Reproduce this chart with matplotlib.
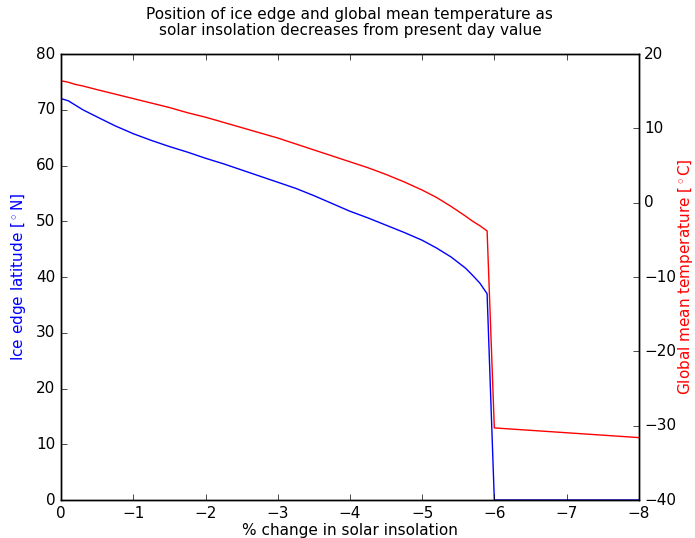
import matplotlib
matplotlib.use('Agg')
import matplotlib.pyplot as plt

plt.style.use('classic')
plt.rcParams['font.size'] = 11

# % change in solar insolation
insol = [0.0, -0.1, -0.2, -0.3, -0.5, -0.75, -1.0, -1.25, -1.5, -1.75, -2.0,
         -2.25, -2.5, -2.75, -3.0, -3.25, -3.5, -3.75, -4.0, -4.25, -4.5,
         -4.75, -5.0, -5.2, -5.4, -5.6, -5.7, -5.8, -5.9, -6.0, -8.0]

# ice edge latitude (deg N)
ice_lat = [72.0, 71.6, 70.8, 70.0, 68.7, 67.1, 65.7, 64.5, 63.4, 62.4, 61.3,
           60.3, 59.2, 58.1, 57.0, 55.9, 54.6, 53.2, 51.8, 50.6, 49.3,
           48.0, 46.6, 45.2, 43.6, 41.6, 40.3, 38.9, 37.0, 0.0, 0.0]

# global mean temperature (deg C)
temp = [16.4, 16.2, 15.9, 15.7, 15.2, 14.6, 14.0, 13.4, 12.8, 12.1, 11.5,
        10.8, 10.1, 9.4, 8.7, 7.9, 7.1, 6.3, 5.5, 4.7, 3.8,
        2.8, 1.7, 0.7, -0.5, -1.8, -2.5, -3.1, -3.8, -30.3, -31.6]

fig = plt.figure(figsize=(6.95, 5.38), dpi=100, facecolor='white')
ax1 = fig.add_axes([0.088, 0.0706, 0.831, 0.829])
ax1.plot(insol, ice_lat, color='blue', linewidth=1.0)
ax1.set_xlim(0, -8)
ax1.set_ylim(0, 80)
ax1.set_xlabel('% change in solar insolation', labelpad=2)
ax1.set_ylabel(r'Ice edge latitude [$^\circ$N]', color='blue', labelpad=6)
ax1.yaxis.set_ticks_position('left')

ax2 = ax1.twinx()
ax2.plot(insol, temp, color='red', linewidth=1.0)
ax2.set_xlim(0, -8)
ax2.set_ylim(-40, 20)
ax2.set_ylabel(r'Global mean temperature [$^\circ$C]', color='red', labelpad=0)
ax2.yaxis.set_ticks_position('right')

ax1.set_title('Position of ice edge and global mean temperature as\n'
              'solar insolation decreases from present day value',
              fontsize=11, pad=14, linespacing=1.05)

fig.savefig('out.png', dpi=100, facecolor='white')
